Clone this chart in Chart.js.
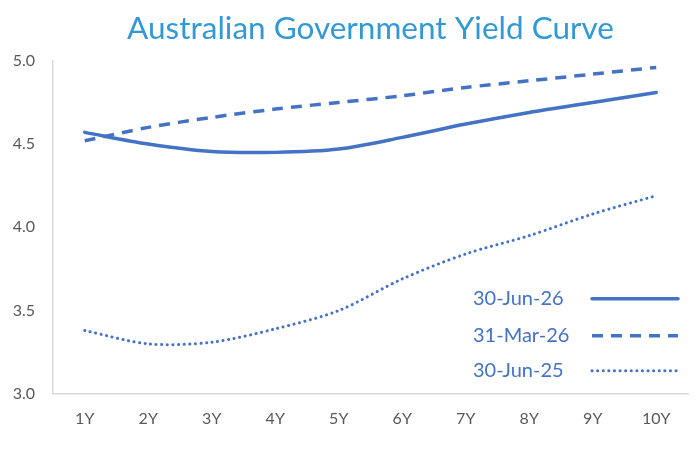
<!DOCTYPE html>
<html>
<head>
<meta charset="utf-8">
<script src="https://cdn.jsdelivr.net/npm/chart.js@4/dist/chart.umd.min.js"></script>
<style>
  html, body { margin: 0; padding: 0; background: #fff; }
  #wrap { width: 700px; height: 450px; }
</style>
</head>
<body>
<div id="wrap"><canvas id="myChart"></canvas></div>
<script>
const tenors = ['1Y', '2Y', '3Y', '4Y', '5Y', '6Y', '7Y', '8Y', '9Y', '10Y'];
const jun26 = [4.57, 4.50, 4.455, 4.45, 4.47, 4.54, 4.62, 4.69, 4.75, 4.81];
const mar26 = [4.52, 4.60, 4.66, 4.71, 4.75, 4.79, 4.84, 4.88, 4.92, 4.96];
const jun25 = [3.38, 3.30, 3.31, 3.39, 3.50, 3.69, 3.84, 3.95, 4.08, 4.19];
const seriesNames = ['30-Jun-26', '31-Mar-26', '30-Jun-25'];
const yTicks = [3.0, 3.5, 4.0, 4.5, 5.0];

const blue = '#4472C4';
const greyText = '#595959';
const axisLine = '#d9d9d9';

// legend drawn inside the plot, text on the left and line sample on the right
const insideLegend = {
    id: 'insideLegend',
    afterDatasetsDraw(chart) {
        const ctx = chart.ctx;
        const area = chart.chartArea;
        const textX = area.right - 215;
        const lineX1 = area.right - 96;
        const lineX2 = area.right - 10;
        const rows = [area.bottom - 95, area.bottom - 58, area.bottom - 23];
        chart.data.datasets.forEach((ds, i) => {
            const y = rows[i];
            ctx.save();
            ctx.font = '20px Lato';
            ctx.fillStyle = blue;
            ctx.textBaseline = 'middle';
            ctx.fillText(ds.label, textX, y);
            ctx.strokeStyle = ds.borderColor;
            ctx.lineWidth = ds.borderWidth;
            ctx.lineCap = ds.borderCapStyle || 'butt';
            ctx.setLineDash(ds.borderDash || []);
            ctx.beginPath();
            ctx.moveTo(lineX1, y);
            ctx.lineTo(lineX2, y);
            ctx.stroke();
            ctx.restore();
        });
    }
};

const canvas = document.getElementById('myChart');
new Chart(canvas.getContext('2d'), {
    type: 'line',
    data: {
        labels: tenors,
        datasets: [
            {
                label: seriesNames[0],
                data: jun26,
                borderColor: blue,
                borderWidth: 3.5,
                borderCapStyle: 'round',
                pointRadius: 0,
                tension: 0.3
            },
            {
                label: seriesNames[1],
                data: mar26,
                borderColor: blue,
                borderWidth: 3.5,
                borderDash: [11, 8],
                pointRadius: 0,
                tension: 0.3
            },
            {
                label: seriesNames[2],
                data: jun25,
                borderColor: blue,
                borderWidth: 3,
                borderCapStyle: 'round',
                borderDash: [0.1, 5.5],
                pointRadius: 0,
                tension: 0.3
            }
        ]
    },
    options: {
        responsive: true,
        maintainAspectRatio: false,
        animation: false,
        layout: { padding: { left: 10, right: 12, top: 0, bottom: 15 } },
        plugins: {
            legend: { display: false },
            tooltip: { enabled: false },
            title: {
                display: true,
                fullSize: false, // centre the title over the plot area
                text: 'Australian Government Yield Curve',
                color: '#3399D4',
                font: { family: 'Lato', size: 31.5, weight: 'normal' },
                padding: { top: 10, bottom: 13 }
            }
        },
        scales: {
            x: {
                offset: true,
                grid: { display: false },
                border: { display: true, color: axisLine, width: 1.5 },
                ticks: {
                    color: greyText,
                    font: { family: 'Lato', size: 16 },
                    padding: 7
                }
            },
            y: {
                min: 3,
                max: 5,
                afterBuildTicks: axis => { axis.ticks = yTicks.map(v => ({ value: v })); },
                afterFit: axis => { axis.width = 43; },
                grid: { display: false },
                border: { display: true, color: axisLine, width: 1.5 },
                ticks: {
                    color: greyText,
                    font: { family: 'Lato', size: 16 },
                    padding: 10,
                    callback: v => Number(v).toFixed(1)
                }
            }
        }
    },
    plugins: [insideLegend]
});
</script>
</body>
</html>
